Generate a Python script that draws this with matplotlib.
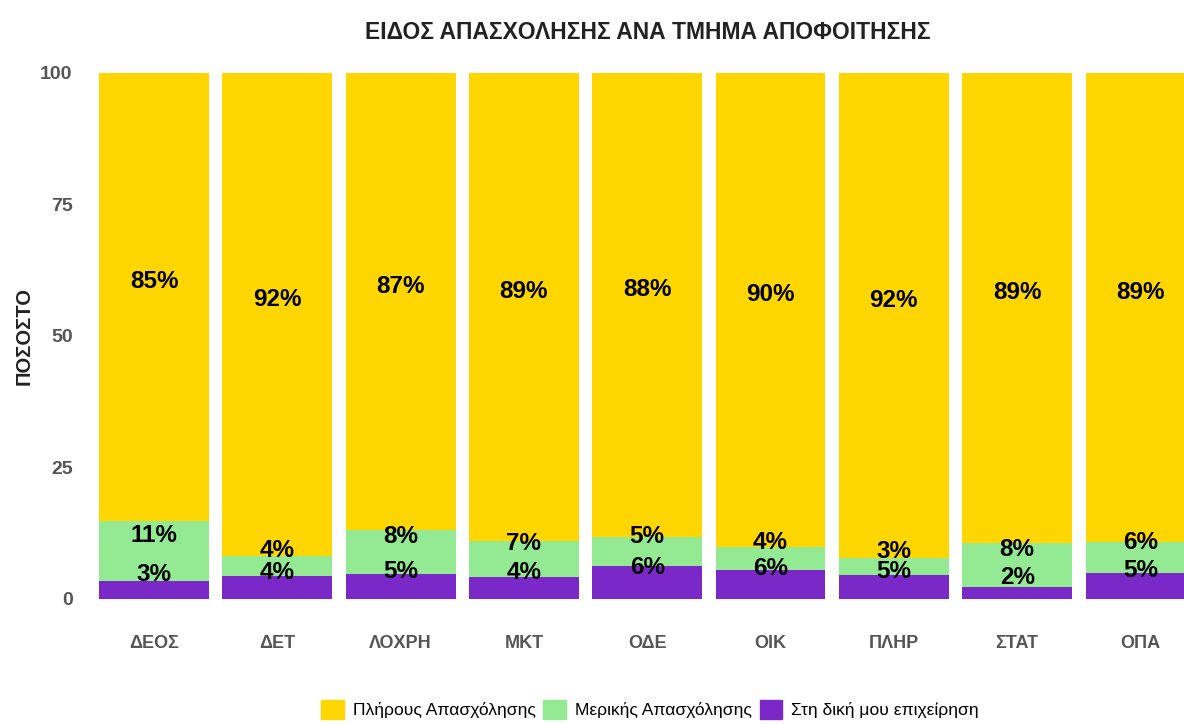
import numpy as np
import matplotlib.pyplot as plt
from matplotlib.patches import Patch

plt.rcParams['font.family'] = ['Liberation Sans', 'DejaVu Sans']

departments = ['ΔΕΟΣ', 'ΔΕΤ', 'ΛΟΧΡΗ', 'ΜΚΤ', 'ΟΔΕ', 'ΟΙΚ', 'ΠΛΗΡ', 'ΣΤΑΤ', 'ΟΠΑ']
own_business = [3.4, 4.4, 4.7, 4.2, 6.3, 5.6, 4.6, 2.3, 4.9]
part_time = [11.4, 3.8, 8.4, 6.8, 5.4, 4.3, 3.2, 8.3, 5.9]
full_time = [85.2, 91.8, 86.9, 89.0, 88.3, 90.1, 92.2, 89.4, 89.2]
series_names = ['Πλήρους Απασχόλησης', 'Μερικής Απασχόλησης', 'Στη δική μου επιχείρηση']

c_full = '#ffd600'
c_part = '#93ea93'
c_own = '#7b28c9'

fig = plt.figure(figsize=(11.84, 7.24), dpi=100)
ax = fig.add_axes([0.0777, 0.1727, 0.9223, 0.7265])

x = np.arange(len(departments))
w = 0.89
own = np.array(own_business)
part = np.array(part_time)
full = np.array(full_time)

ax.bar(x, own, w, color=c_own)
ax.bar(x, part, w, bottom=own, color=c_part)
ax.bar(x, full, w, bottom=own + part, color=c_full)

def put_labels(vals, bottoms):
    for i in range(len(vals)):
        mid = bottoms[i] + vals[i] / 2
        ax.annotate('%d%%' % int(round(vals[i])), xy=(x[i], mid), xytext=(0, 11),
                    textcoords='offset points', ha='center', va='center',
                    fontsize=17.5, fontweight='bold', color='black')

put_labels(own, np.zeros(len(own)))
put_labels(part, own)
put_labels(full, own + part)

ax.set_xlim(-0.503, 8.353)
ax.set_ylim(0, 100)
ax.set_yticks([0, 25, 50, 75, 100])
ax.set_xticks(x)
ax.set_xticklabels(departments)
ax.tick_params(length=0, labelcolor='#555555')
ax.tick_params(axis='x', pad=26, labelsize=13)
ax.tick_params(axis='y', pad=14, labelsize=14)
for lab in ax.get_xticklabels() + ax.get_yticklabels():
    lab.set_fontweight('bold')
for s in ax.spines.values():
    s.set_visible(False)

fig.text(0.02, 0.536, 'ΠΟΣΟΣΤΟ', rotation=90, ha='center', va='center',
         fontsize=14.5, fontweight='bold', color='#222222')
fig.text(0.547, 0.955, 'ΕΙΔΟΣ ΑΠΑΣΧΟΛΗΣΗΣ ΑΝΑ ΤΜΗΜΑ ΑΠΟΦΟΙΤΗΣΗΣ', ha='center', va='center',
         fontsize=16.5, fontweight='bold', color='#222222')

handles = [Patch(color=c_full), Patch(color=c_part), Patch(color=c_own)]
fig.legend(handles, series_names, loc='center', bbox_to_anchor=(0.549, 0.02), ncol=3,
           frameon=False, fontsize=12.6, handlelength=1.3, handleheight=1.3,
           handletextpad=0.5, columnspacing=0.45)

fig.savefig('out.png', dpi=100)
